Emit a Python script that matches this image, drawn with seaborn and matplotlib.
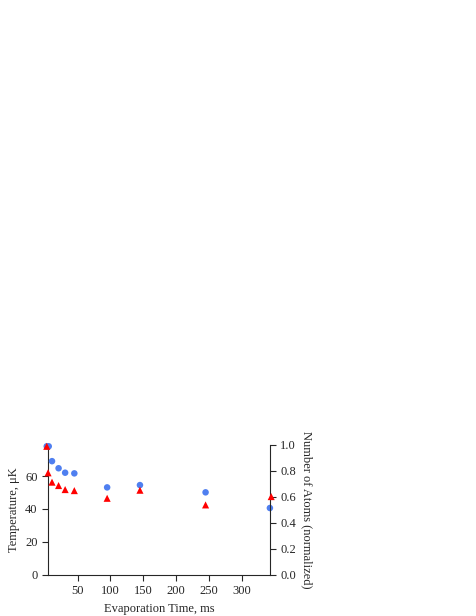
import numpy as np
import matplotlib
matplotlib.use("Agg")
import matplotlib.pyplot as plt
import seaborn as sns

sns.set_style("ticks")
plt.rcParams['font.family'] = ['Liberation Serif', 'DejaVu Serif']
plt.rcParams['font.size'] = 9

time_ms = [3, 6, 11, 21, 31, 45, 95, 145, 245, 343]
temperature_uK = [78, 78, 69, 64.7, 62, 61.6, 53.1, 54.5, 50.1, 40.6]
atom_time_ms = [3, 5, 11, 21, 31, 45, 95, 145, 245, 345]
atoms_norm = [0.99, 0.786, 0.714, 0.688, 0.657, 0.649, 0.59, 0.652, 0.539, 0.603]

fig = plt.figure(figsize=(4.76, 6.16), dpi=100)
ax = fig.add_axes([0.101, 0.0666, 0.466, 0.211])
ax2 = ax.twinx()

sns.scatterplot(x=time_ms, y=temperature_uK, ax=ax, color="#4f7ff0", marker="o",
                s=22, edgecolor="none", clip_on=False, zorder=3)
sns.scatterplot(x=atom_time_ms, y=atoms_norm, ax=ax2, color="red", marker="^",
                s=26, edgecolor="none", clip_on=False, zorder=3)

ax.set_xlim(5, 343)
ax.set_ylim(0, 78.8)
ax2.set_ylim(0, 1.0)
ax.set_xticks([50, 100, 150, 200, 250, 300])
ax.set_yticks([0, 20, 40, 60])
ax2.set_yticks([0, 0.2, 0.4, 0.6, 0.8, 1.0])
ax2.set_yticklabels([f"{v:.1f}" for v in [0, 0.2, 0.4, 0.6, 0.8, 1.0]])

for a in (ax, ax2):
    a.spines['top'].set_visible(False)
    a.tick_params(length=4, width=0.8, labelsize=9)
ax.spines['right'].set_visible(False)
ax2.spines['left'].set_visible(False)
ax2.spines['bottom'].set_visible(False)

ax.set_xlabel("Evaporation Time, ms", fontsize=9)
ax.set_ylabel("Temperature, \u03bcK", fontsize=9)
ax2.set_ylabel("Number of Atoms (normalized)", fontsize=9, rotation=270, labelpad=12)

fig.savefig("out.png", dpi=100)
